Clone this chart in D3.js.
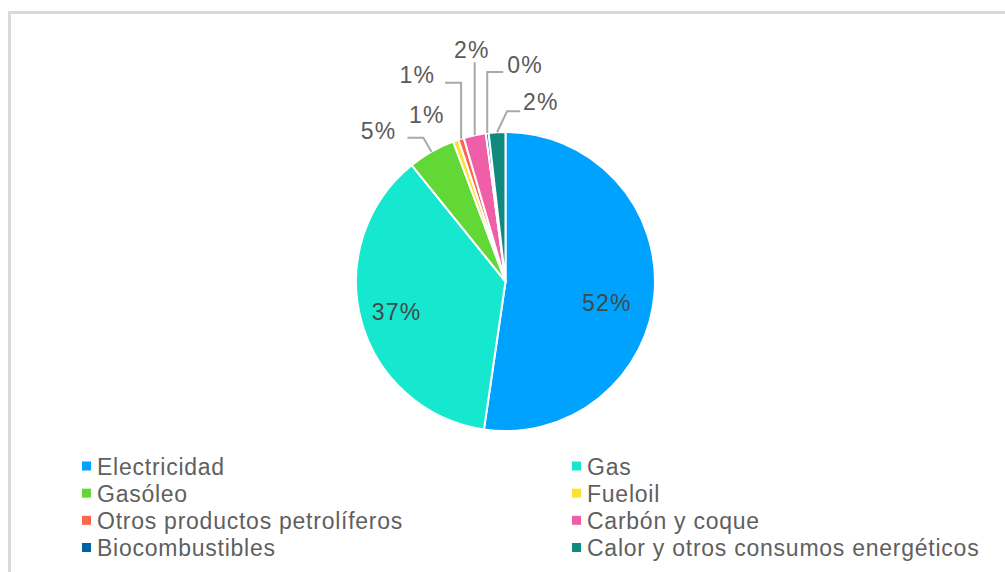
<!DOCTYPE html>
<html>
<head>
<meta charset="utf-8">
<script src="https://cdn.jsdelivr.net/npm/d3@7"></script>
<style>
  body { margin: 0; background: #fff; }
  #chart svg { display: block; }
</style>
</head>
<body>
<div id="chart"></div>
<script>
// data (share of final energy, %)
const categories = ["Electricidad", "Gas", "Gasóleo", "Fueloil", "Otros productos petrolíferos", "Carbón y coque", "Biocombustibles", "Calor y otros consumos energéticos"];
const values = [52.3, 36.9, 5.1, 0.6, 0.6, 2.4, 0.3, 1.8];
const colors = ["#00a2ff", "#16e7cf", "#61d836", "#fae232", "#ff644e", "#ef5fa7", "#0062a6", "#0f8a7c"];
const insideLabels = ["Electricidad", "Gas"];

// label layout: offsets from the slice's outer edge point
const leaderLayout = {
  "Gasóleo": {elbow: [-8, -14], end: [-16, 0], text: [-11, 1], anchor: "end"},
  "Fueloil": {elbow: null, text: [-29, -18], anchor: "middle"},
  "Otros productos petrolíferos": {elbow: [0, -56], end: [-16, 0], text: [-10, 0], anchor: "end"},
  "Carbón y coque": {elbow: [0, -73], end: [0, 0], text: [-3, -4], anchor: "middle"},
  "Biocombustibles": {elbow: [0, -61], end: [16, 0], text: [4, 1], anchor: "start"},
  "Calor y otros consumos energéticos": {elbow: [10, -21], end: [13, 0], text: [3, -1], anchor: "start"}
};
const insideOffset = {"Electricidad": [-6, 14], "Gas": [-5, 2]};

const drawPie = () => {
  const width = 1005;
  const height = 572;
  const cx = 505.5, cy = 281.5, radius = 149.5;
  const font = "'Liberation Sans', Arial, Helvetica, sans-serif";

  const data = categories.map((c, i) => ({name: c, value: values[i], color: colors[i]}));

  const svg = d3.select('#chart')
    .append('svg')
    .attr('width', width)
    .attr('height', height);

  // light frame around the chart
  svg.append('rect')
    .attr('x', 9.5)
    .attr('y', 12.5)
    .attr('width', width + 20)
    .attr('height', height + 20)
    .attr('fill', 'none')
    .attr('stroke', '#dadada')
    .attr('stroke-width', 3);

  const pie = d3.pie().value(d => d.value).sort(null);
  const arcs = pie(data);
  const arc = d3.arc().innerRadius(0).outerRadius(radius);
  const labelArc = d3.arc().innerRadius(radius * 0.72).outerRadius(radius * 0.72);

  const g = svg.append('g').attr('transform', `translate(${cx}, ${cy})`);

  g.selectAll('path')
    .data(arcs)
    .enter()
    .append('path')
    .attr('d', arc)
    .attr('fill', d => d.data.color)
    .attr('stroke', 'white')
    .attr('stroke-width', 2)
    .attr('stroke-linejoin', 'round');

  const pct = d => `${Math.round(d.data.value)}%`;

  // labels inside the big slices
  g.selectAll('text.inside')
    .data(arcs.filter(d => insideLabels.includes(d.data.name)))
    .enter()
    .append('text')
    .attr('class', 'inside')
    .attr('x', d => labelArc.centroid(d)[0] + insideOffset[d.data.name][0])
    .attr('y', d => labelArc.centroid(d)[1] + insideOffset[d.data.name][1])
    .attr('text-anchor', 'middle')
    .attr('dominant-baseline', 'central')
    .attr('font-family', font)
    .attr('font-size', '23px')
    .attr('letter-spacing', '1.2px')
    .attr('fill', '#3f4a4a')
    .text(pct);

  // outside labels with leader lines
  const edge = d => {
    const a = (d.startAngle + d.endAngle) / 2;
    return [radius * Math.sin(a), -radius * Math.cos(a)];
  };

  arcs.filter(d => leaderLayout[d.data.name]).forEach(d => {
    const lay = leaderLayout[d.data.name];
    const p0 = edge(d);
    let last = p0;
    if (lay.elbow) {
      const p1 = [p0[0] + lay.elbow[0], p0[1] + lay.elbow[1]];
      const p2 = [p1[0] + lay.end[0], p1[1] + lay.end[1]];
      g.append('path')
        .attr('d', d3.line()([p0, p1, p2]))
        .attr('fill', 'none')
        .attr('stroke', '#a9a9a9')
        .attr('stroke-width', 2);
      last = p2;
    }
    g.append('text')
      .attr('x', last[0] + lay.text[0])
      .attr('y', last[1] + lay.text[1])
      .attr('text-anchor', lay.anchor)
      .attr('font-family', font)
      .attr('font-size', '23px')
      .attr('letter-spacing', '1.2px')
      .attr('fill', '#5a5a5a')
      .text(pct(d));
  });

  // legend, two columns
  const colX = d3.scalePoint().domain([0, 1]).range([82, 572]);
  const rowY = d3.scalePoint().domain([0, 1, 2, 3]).range([466.5, 548]);

  const legend = svg.selectAll('g.legend')
    .data(data)
    .enter()
    .append('g')
    .attr('class', 'legend')
    .attr('transform', (d, i) => `translate(${colX(i % 2)}, ${rowY(Math.floor(i / 2))})`);

  legend.append('rect')
    .attr('x', 0)
    .attr('y', -5)
    .attr('width', 9)
    .attr('height', 9)
    .attr('fill', d => d.color);

  legend.append('text')
    .attr('x', 15)
    .attr('y', 0)
    .attr('dominant-baseline', 'central')
    .attr('font-family', font)
    .attr('font-size', '23px')
    .attr('letter-spacing', '0.75px')
    .attr('fill', '#5f5f5f')
    .text(d => d.name);
};

drawPie();
</script>
</body>
</html>
